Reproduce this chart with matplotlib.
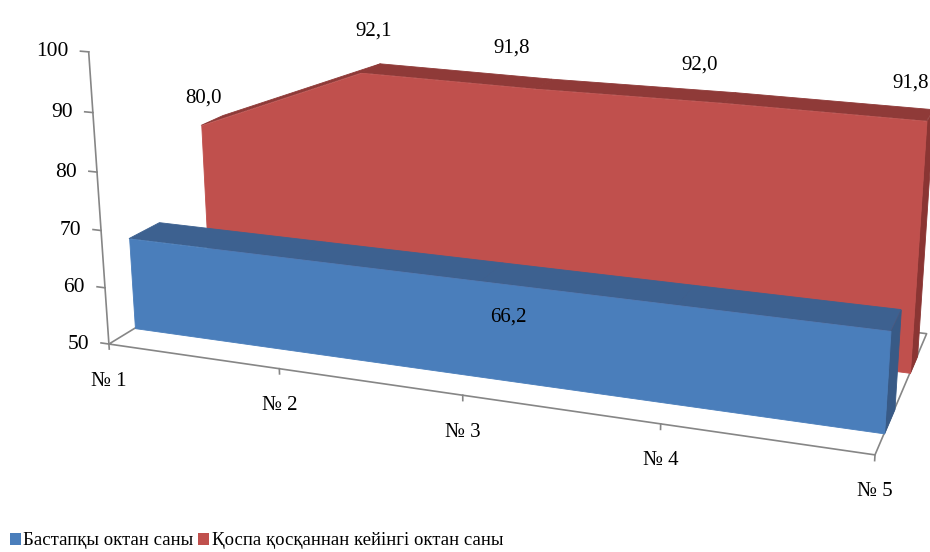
import numpy as np
import matplotlib.pyplot as plt
from matplotlib.patches import Patch
from mpl_toolkits.mplot3d import proj3d
from mpl_toolkits.mplot3d.art3d import Poly3DCollection

# chart data
categories = ['№ 1', '№ 2', '№ 3', '№ 4', '№ 5']
initial = [66.2, 66.2, 66.2, 66.2, 66.2]
blended = [80.0, 92.1, 91.8, 92.0, 91.8]
series_names = ['Бастапқы октан саны', 'Қоспа қосқаннан кейінгі октан саны']
value_ticks = [50, 60, 70, 80, 90, 100]

plt.rcParams['font.family'] = ['Liberation Serif', 'DejaVu Serif']

BASE = 50
AXIS_GRAY = '#868686'
BLUE = ('#4a7ebb', '#3d6190', '#385a86')   # front, top, side
RED = ('#c0504d', '#8f3a38', '#8a3533')
# depth slots of the two slabs on the floor (0 = front, 1 = back)
BLUE_DEPTH = (0.154, 0.339)
RED_DEPTH = (0.639, 0.789)

W, H = 930, 552
fig = plt.figure(figsize=(W / 100, H / 100), dpi=100)
ax = fig.add_axes([48.5 / W, 71.3 / H, 1, 1], projection='3d')
ax.set_proj_type('persp', focal_length=0.599)
ax.view_init(elev=16.34, azim=-69.75)
ax.set_box_aspect((4, 1.639, 1.559), zoom=1.566)
n = len(categories)
ax.set_xlim(0, n - 1)
ax.set_ylim(0, 1)
ax.set_zlim(BASE, 100)
ax.set_axis_off()
ax.computed_zorder = False

M = ax.get_proj()


def to2d(x, y, z):
    xs, ys, _ = proj3d.proj_transform(np.array([x], float), np.array([y], float),
                                      np.array([z], float), M)
    return float(xs[0]), float(ys[0])


def label(text, xyz, offset, **kw):
    ax.annotate(text, to2d(*xyz), xytext=offset, textcoords='offset pixels',
                annotation_clip=False, **kw)


def slab(values, depth, colors, z):
    y0, y1 = depth
    front, top, side = colors
    front_face = ([(0, y0, BASE)] + [(i, y0, v) for i, v in enumerate(values)]
                  + [(n - 1, y0, BASE)])
    top_faces = [[(i, y0, values[i]), (i + 1, y0, values[i + 1]),
                  (i + 1, y1, values[i + 1]), (i, y1, values[i])]
                 for i in range(n - 1)]
    right_face = [(n - 1, y0, BASE), (n - 1, y0, values[-1]),
                  (n - 1, y1, values[-1]), (n - 1, y1, BASE)]
    for faces, col in ((top_faces, top), ([right_face], side), ([front_face], front)):
        pc = Poly3DCollection(faces, facecolor=col, edgecolor=col, linewidth=0.6)
        pc.set_zorder(z)
        pc.set_clip_on(False)
        ax.add_collection3d(pc)


# floor outline
fx = [0, n - 1, n - 1, 0, 0]
fy = [0, 0, 1, 1, 0]
ax.plot(fx, fy, [BASE] * 5, color=AXIS_GRAY, lw=1.2, zorder=1, clip_on=False)

# back series first, then the front one
slab(blended, RED_DEPTH, RED, 2)
slab(initial, BLUE_DEPTH, BLUE, 3)

# value axis with ticks
ax.plot([0, 0], [0, 0], [BASE, 100], color=AXIS_GRAY, lw=1.2, zorder=4, clip_on=False)
for v in value_ticks:
    ax.plot([0, -0.048], [0, 0], [v, v], color=AXIS_GRAY, lw=1.2, zorder=4, clip_on=False)
    label(f'{v}', (0, 0, v), (-20, 0), ha='right', va='center', fontsize=15.5)

# category axis ticks and labels
for i, lab in enumerate(categories):
    ax.plot([i, i], [0, 0], [BASE, BASE - 0.9], color=AXIS_GRAY, lw=1.2, zorder=4,
            clip_on=False)
    label(lab, (i, 0, BASE), (0, -37), ha='center', va='center', fontsize=15)

# data labels of the back series
red_offsets = [(2, 27), (12, 42), (-25, 41), (-24, 38), (-16, 38)]
for i, v in enumerate(blended):
    label(f'{v:.1f}'.replace('.', ','), (i, RED_DEPTH[0], v), red_offsets[i],
          ha='center', va='center', fontsize=15)

# single data label on the front series
mid = n // 2
label(f'{initial[mid]:.1f}'.replace('.', ','),
      (mid, BLUE_DEPTH[0], (BASE + initial[mid]) / 2), (27, 12),
      ha='center', va='center', fontsize=15)

handles = [Patch(facecolor=BLUE[0], label=series_names[0]),
           Patch(facecolor=RED[0], label=series_names[1])]
fig.legend(handles=handles, loc='lower left', ncol=2, frameon=False,
           fontsize=13.5, handlelength=0.55, handleheight=0.6, handletextpad=0.15,
           columnspacing=0.25, bbox_to_anchor=(0.0, -0.014), borderaxespad=0.15)

fig.savefig('out.png', dpi=100, facecolor='white')
